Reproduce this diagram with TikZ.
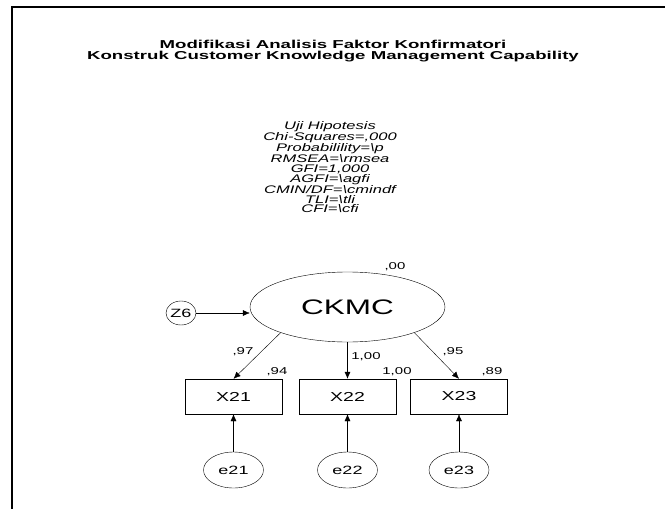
\documentclass[tikz,border=0pt]{standalone}
\usepackage{fontspec}
\setmainfont{Liberation Sans}
\usepackage{tikz}
\usetikzlibrary{arrows.meta,positioning,shapes.geometric}
\newcommand{\wtxt}[1]{\scalebox{1.5}[1]{#1}}
\newcommand{\ttxt}[1]{\scalebox{1.62}[1]{#1}}
\tikzset{
  latent/.style={ellipse, draw, thin, minimum width=195pt, minimum height=70pt, inner sep=0pt},
  errvar/.style={ellipse, draw, thin, minimum width=60pt, minimum height=36pt, inner sep=0pt, font=\fontsize{12}{12}\selectfont},
  obsbox/.style={rectangle, draw, thin, minimum width=97pt, minimum height=35pt, inner sep=0pt, font=\fontsize{13}{13}\selectfont},
  coef/.style={inner sep=1pt, font=\fontsize{10}{10}\selectfont},
  path/.style={-{Latex[length=7pt,width=6pt]}, thin}
}
\begin{document}
\begin{tikzpicture}[x=1pt,y=-1pt]
\useasboundingbox (0,0) rectangle (665,509);
% frame, cut by the page edge
\draw[line width=1.5pt] (12,515) -- (12,7) -- (670,7);

% title and fit block
\node[font=\fontsize{11.5}{11}\selectfont\bfseries, align=center] (title) at (333,51)
  {\ttxt{Modifikasi Analisis Faktor Konfirmatori}\\ \ttxt{Konstruk Customer Knowledge Management Capability}};
\node[font=\fontsize{11}{9.7}\selectfont\itshape, align=center] (fit) at (330,167)
  {\wtxt{Uji Hipotesis}\\ \wtxt{Chi-Squares=,000}\\ \wtxt{Probabilility=\textbackslash p}\\
   \wtxt{RMSEA=\textbackslash rmsea}\\ \wtxt{GFI=1,000}\\ \wtxt{AGFI=\textbackslash agfi}\\
   \wtxt{CMIN/DF=\textbackslash cmindf}\\ \wtxt{TLI=\textbackslash tli}\\ \wtxt{CFI=\textbackslash cfi}};

% model
\node[latent] (ckmc) at (347.5,307) {\fontsize{21}{21}\selectfont\wtxt{CKMC}};
\node[errvar, minimum width=30pt, minimum height=24pt] (z6) at (181,313) {\wtxt{Z6}};
\node[obsbox] (x21) at (233.5,396.5) {\wtxt{X21}};
\node[obsbox] (x22) at (347.5,396.5) {\wtxt{X22}};
\node[obsbox] (x23) at (459,396.5) {\wtxt{X23}};
\node[errvar] (e21) at (233.5,470) {\wtxt{e21}};
\node[errvar] (e22) at (347.5,470) {\wtxt{e22}};
\node[errvar] (e23) at (459,470) {\wtxt{e23}};

\draw[path] (z6) -- (z6 -| ckmc.west);
\draw[path] (ckmc.-159) -- (x21.north);
\draw[path] (ckmc.south) -- (x22.north);
\draw[path] (ckmc.-21) -- (x23.north);
\draw[path] (e21) -- (x21);
\draw[path] (e22) -- (x22);
\draw[path] (e23) -- (x23);

% estimates
\node[coef] (v0) at (395,267) {\wtxt{,00}};
\node[coef] (l21) at (243,352) {\wtxt{,97}};
\node[coef] (l22) at (366,357) {\wtxt{1,00}};
\node[coef] (l23) at (453,352) {\wtxt{,95}};
\node[coef] (r21) at (277,372) {\wtxt{,94}};
\node[coef] (r22) at (397,372) {\wtxt{1,00}};
\node[coef] (r23) at (492,372) {\wtxt{,89}};
\end{tikzpicture}
\end{document}
